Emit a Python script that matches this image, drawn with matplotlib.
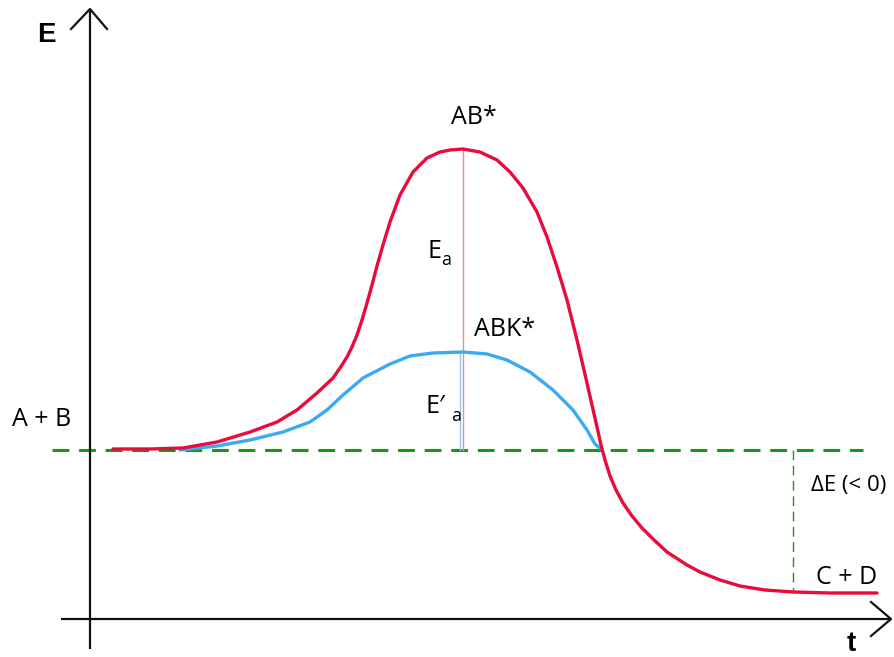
import matplotlib
matplotlib.use("Agg")
import matplotlib.pyplot as plt

# ---- data (chart units: t along x-axis, E along y-axis; axes cross at 0,0) ----
red_t = [23, 60, 93, 127, 160, 187, 207, 227, 243, 250, 257, 262, 267, 272, 277,
         282, 287, 293, 300, 310, 323, 337, 350, 360, 373, 390, 407, 420, 433, 447,
         457, 467, 477, 487, 497, 502, 507, 511, 515, 520, 526, 533, 542, 552, 563,
         577, 597, 610, 630, 650, 675, 703, 740, 787]
red_E = [170, 170, 171, 177, 187, 197, 209, 226, 241, 251, 262, 272, 284, 299, 316,
         334, 353, 374, 397, 424, 447, 461, 467, 469, 470, 467, 459, 447, 431, 407,
         382, 352, 319, 279, 236, 214, 192, 174, 159, 143, 129, 116, 103, 91, 80,
         67, 54, 47, 39, 33, 29, 27, 26, 26]

blue_t = [90, 127, 160, 193, 220, 237, 253, 273, 300, 320, 343, 373, 397, 417, 440,
          463, 483, 497, 505, 511]
blue_E = [169, 173, 179, 187, 197, 209, 224, 241, 255, 263, 266, 267, 265, 259, 247,
          229, 209, 189, 175, 170]

E_reactants = 169
E_products = 27
t_peak = 373
E_peak = 470
E_peak_cat = 267
t_delta = 703

labels = {"E": "E", "t": "t", "AB": "A + B", "CD": "C + D", "ts": "AB*",
          "ts_cat": "ABK*", "dE": "\u0394E (< 0)"}

# ---- figure ----
W, H = 894, 657
x0, y0 = 90, 619  # pixel position of the origin
fig = plt.figure(figsize=(W / 100, H / 100), dpi=100)
ax = fig.add_axes([0, 0, 1, 1])
ax.set_xlim(-x0, W - x0)
ax.set_ylim(y0 - H, y0)
ax.axis("off")

RED = "#ea0a3c"
BLUE = "#3aaaf2"
GREEN = "#169a16"

# axes with open arrowheads
ax.plot([0, 0], [-30, 610], color="#111111", lw=1.6, solid_capstyle="butt")
ax.plot([-19, 0, 17], [590, 610, 590], color="#111111", lw=1.6)
ax.plot([-29, 801], [0, 0], color="#111111", lw=1.6, solid_capstyle="butt")
ax.plot([781, 801, 781], [17, 0, -17], color="#111111", lw=1.6)

# reference dashed lines
ax.plot([-38, 773], [E_reactants, E_reactants], color=GREEN, lw=2.2,
        dashes=(5.5, 3.2), zorder=1)
ax.plot([t_delta, t_delta], [E_reactants, E_products], color=GREEN, lw=1.0,
        dashes=(7, 4), zorder=1)

# activation energy markers
ax.plot([t_peak, t_peak], [E_reactants, E_peak], color="#ef8a98", lw=1.0, zorder=2)
ax.plot([t_peak - 3, t_peak - 3], [E_reactants, E_peak_cat], color="#8ccbf2",
        lw=1.0, zorder=2)

# energy curves
ax.plot(blue_t, blue_E, color=BLUE, lw=2.4, solid_joinstyle="round",
        solid_capstyle="round", zorder=3)
ax.plot(red_t, red_E, color=RED, lw=2.4, solid_joinstyle="round",
        solid_capstyle="round", zorder=4)

# text
fs = 18
fam = ["Open Sans", "DejaVu Sans"]
ax.text(-44, 584, labels["E"], fontsize=20, fontweight="bold",
        family="Liberation Sans", ha="center", va="center")
ax.text(761, -25, labels["t"], fontsize=20, fontweight="bold",
        family="Liberation Sans", ha="center", va="center")
ax.text(-48, 200, labels["AB"], fontsize=fs, family=fam, ha="center", va="center")
ax.text(757, 42, labels["CD"], fontsize=fs, family=fam, ha="center", va="center")
ax.text(384, 501, labels["ts"], fontsize=fs, family=fam, ha="center", va="center")
ax.text(415, 290, labels["ts_cat"], fontsize=fs, family=fam, ha="center", va="center")
ax.text(759, 133, labels["dE"], fontsize=16, family=fam, ha="center", va="center")

# E_a and E'_a with subscripts
ax.text(337, 361, "E", fontsize=fs, family=fam, ha="left", va="baseline")
ax.text(351, 354, "a", fontsize=13, family=fam, ha="left", va="baseline")
ax.text(335, 206, "E\u2032", fontsize=fs, family=fam, ha="left", va="baseline")
ax.text(361, 198, "a", fontsize=13, family=fam, ha="left", va="baseline")

fig.savefig("out.png", dpi=100)
